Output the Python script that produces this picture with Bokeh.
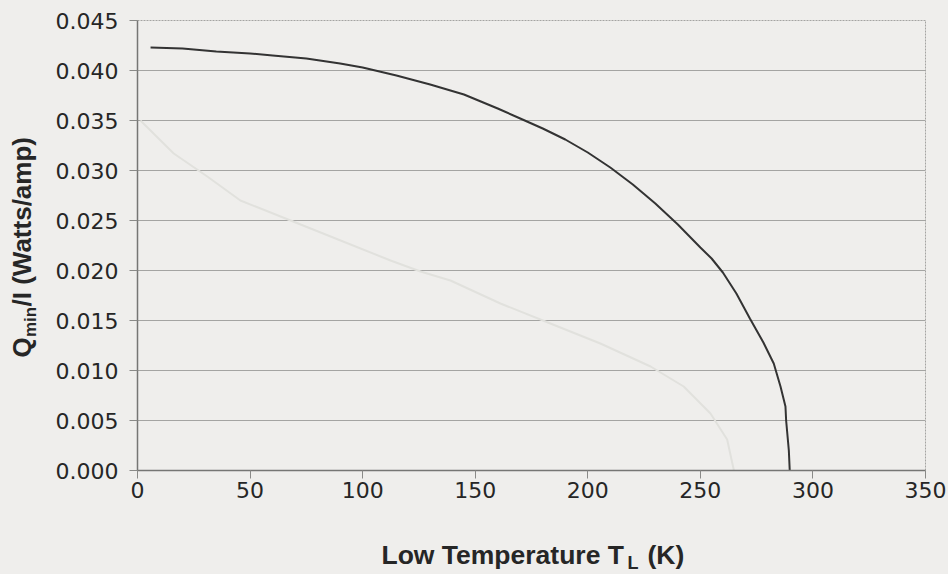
from math import pi

from bokeh.plotting import figure
from bokeh.layouts import column, row
from bokeh.models import Range1d, FixedTicker, PrintfTickFormatter
from bokeh.core.properties import value
from bokeh.embed import file_html
from bokeh.resources import INLINE

# Low-side temperature T_L (K) and minimum heat load per unit current (W/A)
temp_K = [5.8, 20, 35, 50, 60, 75, 90, 100, 115, 130, 145, 160, 170, 180,
          190, 200, 210, 220, 230, 240, 250, 255, 260, 266, 272, 278, 282.6,
          285.6, 287.8, 288.1, 289.3, 289.7]
q_min_per_amp = [0.0423, 0.0422, 0.0419, 0.0417, 0.0415, 0.0412, 0.0407,
                 0.0403, 0.0395, 0.0386, 0.0376, 0.0362, 0.0352, 0.0342,
                 0.0331, 0.0318, 0.0303, 0.0286, 0.0267, 0.0246, 0.0223,
                 0.0212, 0.0198, 0.0177, 0.0152, 0.0128, 0.0107, 0.0084,
                 0.0064, 0.0050, 0.0020, 0.0000]

# Faint companion curve running underneath
faint_temp_K = [1.3, 16.1, 31.0, 45.7, 68.0, 90.2, 112.4, 125.7, 139.0, 161.2,
                183.4, 205.6, 227.9, 242.6, 254.5, 261.9, 264.9]
faint_q = [0.0350, 0.0317, 0.0294, 0.0270, 0.0250, 0.0230, 0.0210, 0.0199,
           0.0190, 0.0167, 0.0147, 0.0127, 0.0104, 0.0084, 0.0057, 0.0031,
           0.0000]

x_ticks = [0, 50, 100, 150, 200, 250, 300, 350]
y_ticks = [0.000, 0.005, 0.010, 0.015, 0.020, 0.025, 0.030, 0.035, 0.040, 0.045]

BG = "#efeeec"
INK = "#262626"
GRID = "#a4a4a2"
TITLE_FONT = value("Liberation Sans")

LEFT_W = 48      # strip holding the vertical axis title
BOTTOM_H = 55    # strip holding the horizontal axis title
MAIN_W = 948 - LEFT_W
MAIN_H = 574 - BOTTOM_H
FRAME_TOP, FRAME_BOTTOM = 20, 470   # pixel rows of the plotting frame

# ---- main chart ----
p = figure(width=MAIN_W, height=MAIN_H, output_backend="svg",
           toolbar_location=None,
           x_range=Range1d(0, 350), y_range=Range1d(0, 0.045),
           min_border_left=137 - LEFT_W, min_border_right=23,
           min_border_top=FRAME_TOP, min_border_bottom=MAIN_H - FRAME_BOTTOM)

p.background_fill_color = BG
p.border_fill_color = BG
p.outline_line_color = GRID
p.outline_line_dash = "2 1"
p.outline_line_width = 1

p.xgrid.visible = False
p.ygrid.ticker = FixedTicker(ticks=y_ticks)
p.ygrid.grid_line_color = GRID
p.ygrid.grid_line_width = 1

for ax in (p.xaxis[0], p.yaxis[0]):
    ax.major_label_text_font = "DejaVu Sans"
    ax.major_label_text_font_size = "22px"
    ax.major_label_text_color = INK
    ax.axis_line_color = "#767674"
    ax.axis_line_width = 1.5
    ax.major_tick_line_color = "#8a8a88"
    ax.major_tick_out = 8
    ax.major_tick_in = 0
    ax.minor_tick_out = 0
    ax.minor_tick_in = 0

p.xaxis.ticker = FixedTicker(ticks=x_ticks)
p.xaxis.major_label_standoff = 3
p.yaxis.ticker = FixedTicker(ticks=y_ticks)
p.yaxis.formatter = PrintfTickFormatter(format="%.3f")
p.yaxis.major_label_standoff = 11

p.line(faint_temp_K, faint_q, line_color="#e1e1dd", line_width=2)
p.line(temp_K, q_min_per_amp, line_color="#333333", line_width=2)


def text_strip(width, height, y_lo, y_hi):
    """Blank panel with pixel-scaled ranges, used to set axis titles."""
    f = figure(width=width, height=height, output_backend="svg",
               toolbar_location=None, x_axis_location=None,
               y_axis_location=None, min_border=0,
               x_range=Range1d(0, width), y_range=Range1d(y_lo, y_hi))
    f.background_fill_color = BG
    f.border_fill_color = BG
    f.outline_line_color = None
    f.grid.visible = False
    return f


title_style = dict(text_font=TITLE_FONT, text_font_style="bold",
                   text_color=INK, text_align="left",
                   text_baseline="alphabetic")

# ---- vertical title: Q_min/I (Watts/amp) ----
# the strip's frame lines up with the chart frame; y counts up from the page bottom
left = text_strip(LEFT_W, MAIN_H, 574 - FRAME_BOTTOM, 574 - FRAME_TOP)
left.text(x=[21], y=[574 - 357], text=["Q"], angle=pi / 2,
          text_font_size="26px", **title_style)
left.text(x=[30], y=[574 - 336.5], text=["min"], angle=pi / 2,
          text_font_size="17px", **title_style)
left.text(x=[21], y=[574 - 306], text=["/I (Watts/amp)"], angle=pi / 2,
          text_font_size="26px", **title_style)

# ---- horizontal title: Low Temperature T_L (K) ----
bottom = text_strip(948, BOTTOM_H, 0, BOTTOM_H)
bottom.text(x=[381], y=[20], text=["Low Temperature T"],
            text_font_size="26.5px", **title_style)
bottom.text(x=[627], y=[11.5], text=["L"],
            text_font_size="18px", **title_style)
bottom.text(x=[647], y=[20], text=["(K)"],
            text_font_size="26.5px", **title_style)

top_row = row(left, p, spacing=0)
top_row.styles = {"background-color": BG}
layout = column(top_row, bottom, spacing=0)
layout.styles = {"background-color": BG}

open("out.html", "w").write(file_html(layout, INLINE))
